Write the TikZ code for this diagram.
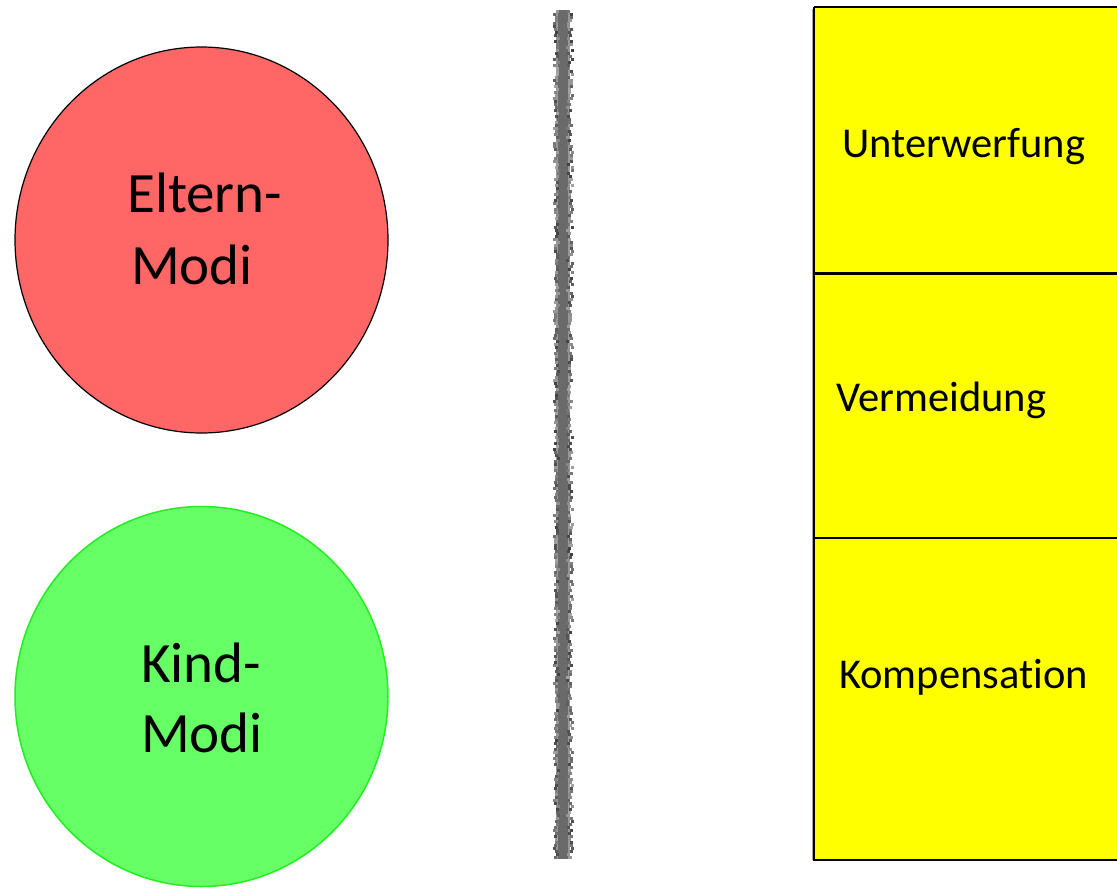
\documentclass[tikz,border=0pt]{standalone}
\usepackage{fontspec}
\setmainfont{Carlito}[Ligatures=NoCommon]
\definecolor{elternred}{HTML}{FF6666}
\definecolor{kindgreen}{HTML}{66FF66}
\definecolor{kindedge}{HTML}{22EE22}
\definecolor{boxyellow}{HTML}{FFFF00}
\definecolor{dividergray}{HTML}{6A6A6A}
\tikzset{
  modetext/.style={inner sep=0pt, anchor=base west, font=\fontsize{57}{71}\selectfont},
  strategytext/.style={inner sep=0pt, anchor=base west, font=\fontsize{42.5}{50}\selectfont},
  boxline/.style={draw=black, line width=2.2pt}
}
\begin{document}
\begin{tikzpicture}[x=1pt, y=-1pt]
  \useasboundingbox (0,0) rectangle (1117,887);
  \clip (0,0) rectangle (1117,887);

  % parent and child modes
  \fill[elternred] (201.5,240) ellipse [x radius=186.5, y radius=193];
  \draw[black, line width=1.2pt] (201.5,240) ellipse [x radius=186.5, y radius=193];
  \node[modetext] (eltern) at (127,212) {Eltern-};
  \node[modetext] (emodi) at (131,284) {Modi};

  \fill[kindgreen] (201.5,696.5) ellipse [x radius=186.5, y radius=190];
  \draw[kindedge, line width=1.5pt] (201.5,696.5) ellipse [x radius=186.5, y radius=190];
  \node[modetext] (kind) at (141,682) {Kind-};
  \node[modetext] (kmodi) at (141,752) {Modi};

  % grainy divider
  \fill[dividergray!70] (556,10) rectangle (570,859);
  \fill[dividergray] (558,10) rectangle (568,859);
  \pgfmathsetseed{7}
  \foreach \yy in {10,13,...,856}{
    \pgfmathsetmacro{\xa}{553+4*rnd}
    \pgfmathsetmacro{\xb}{566+5*rnd}
    \pgfmathsetmacro{\ga}{35+40*rnd}
    \pgfmathsetmacro{\gb}{35+40*rnd}
    \fill[black!\ga] (\xa,\yy) rectangle ++(3,3);
    \fill[black!\gb] (\xb,\yy) rectangle ++(3,3);
  }

  % coping strategies column
  \fill[boxyellow] (814,7) rectangle (1130,860);
  \draw[gray!70, line width=1.2pt] (812.5,9) -- (812.5,860);
  \draw[boxline] (814,7) -- (1130,7);
  \draw[boxline] (814,7) -- (814,860) -- (1130,860);
  \draw[boxline] (814,273.5) -- (1130,273.5);
  \draw[boxline] (814,538) -- (1130,538);

  \node[strategytext] (unterwerfung) at (842,157) {Unterwerfung};
  \node[strategytext] (vermeidung) at (836,411) {Vermeidung};
  \node[strategytext] (kompensation) at (839,688) {Kompensation};
\end{tikzpicture}
\end{document}
